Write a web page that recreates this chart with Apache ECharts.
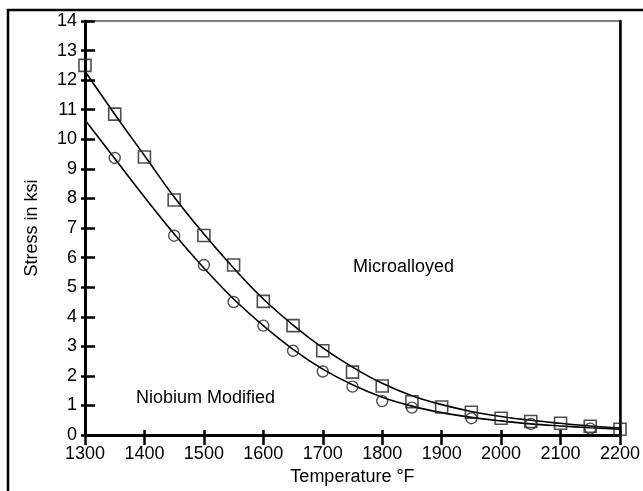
<!DOCTYPE html>
<html>
<head>
<meta charset="utf-8">
<script src="https://cdn.jsdelivr.net/npm/echarts@6/dist/echarts.min.js"></script>
<style>
html,body{margin:0;padding:0;background:#fff;}
#c{width:643px;height:491px;}
</style>
</head>
<body>
<div id="c"></div>
<script>
// Temperature ticks and data
var xTicks = [1300,1400,1500,1600,1700,1800,1900,2000,2100,2200];
var yTicks = [0,1,2,3,4,5,6,7,8,9,10,11,12,13,14];

// Microalloyed measured points (squares)
var microT = [1300,1350,1400,1450,1500,1550,1600,1650,1700,1750,1800,1850,1900,1950,2000,2050,2100,2150,2200];
var microS = [12.5,10.85,9.4,7.95,6.75,5.75,4.52,3.7,2.85,2.13,1.66,1.13,0.95,0.77,0.57,0.46,0.4,0.3,0.2];

// Niobium Modified measured points (circles)
var nbT = [1350,1450,1500,1550,1600,1650,1700,1750,1800,1850,1950,2050,2150];
var nbS = [9.37,6.74,5.75,4.5,3.7,2.85,2.15,1.64,1.15,0.93,0.57,0.38,0.22];

// Fitted curves
var curveT = [1300,1350,1400,1450,1500,1550,1600,1650,1700,1750,1800,1850,1900,1950,2000,2050,2100,2150,2200];
var microCurve = [12.3,10.85,9.45,8.05,6.8,5.65,4.6,3.72,2.95,2.3,1.75,1.33,1.03,0.8,0.63,0.5,0.4,0.31,0.24];
var nbCurve = [10.65,9.35,8.05,6.8,5.65,4.6,3.7,2.9,2.23,1.7,1.28,0.98,0.76,0.6,0.48,0.38,0.31,0.25,0.2];

function zip(a,b){ return a.map(function(v,i){return [v,b[i]];}); }

var FONT = '"Liberation Sans", Arial, Helvetica, sans-serif';
var chart = echarts.init(document.getElementById('c'), null, {renderer:'canvas'});

var xBase = {type:'value', min:xTicks[0], max:xTicks[xTicks.length-1], interval:100, gridIndex:0};
var yBase = {type:'value', min:yTicks[0], max:yTicks[yTicks.length-1], interval:1, gridIndex:0};

chart.setOption({
  animation:false,
  backgroundColor:'#fff',
  grid:{left:85, top:21, right:17, bottom:54, show:true, borderColor:'#000', borderWidth:1.2, backgroundColor:'transparent'},
  xAxis:[
    Object.assign({}, xBase, {
      position:'bottom',
      name:'Temperature \u00B0F', nameLocation:'middle', nameGap:27,
      nameTextStyle:{fontFamily:FONT, fontSize:18, color:'#000'},
      axisLine:{show:true, lineStyle:{color:'#000', width:3}},
      axisTick:{show:true, inside:false, length:10, lineStyle:{color:'#000', width:2.5}},
      axisLabel:{show:true, margin:10, fontFamily:FONT, fontSize:18, color:'#000',
                 formatter:function(v){return String(v);}},
      splitLine:{show:false}
    }),
    Object.assign({}, xBase, {
      position:'bottom',
      axisLine:{show:false},
      axisTick:{show:true, inside:true, length:5, lineStyle:{color:'#000', width:2.5}},
      axisLabel:{show:false},
      splitLine:{show:false}
    })
  ],
  yAxis:[
    Object.assign({}, yBase, {
      position:'left',
      name:'Stress in ksi', nameLocation:'middle', nameGap:44,
      nameTextStyle:{fontFamily:FONT, fontSize:18, color:'#000'},
      axisLine:{show:true, lineStyle:{color:'#000', width:3}},
      axisTick:{show:true, inside:true, length:10, lineStyle:{color:'#000', width:2.5}},
      axisLabel:{show:true, margin:8, fontFamily:FONT, fontSize:18, color:'#000'},
      splitLine:{show:false}
    }),
    Object.assign({}, yBase, {
      position:'left',
      axisLine:{show:false},
      axisTick:{show:true, inside:false, length:4, lineStyle:{color:'#000', width:2.5}},
      axisLabel:{show:false},
      splitLine:{show:false}
    }),
    Object.assign({}, yBase, {
      position:'right',
      axisLine:{show:true, lineStyle:{color:'#000', width:2.5}},
      axisTick:{show:false},
      axisLabel:{show:false},
      splitLine:{show:false}
    })
  ],
  graphic:[
    {type:'polyline', silent:true, shape:{points:[[8,491],[8,10],[643,10]]}, style:{stroke:'#000', lineWidth:2.5, fill:null}},
    {type:'text', silent:true, left:353, top:258, style:{text:'Microalloyed', fontFamily:FONT, fontSize:18, fill:'#000'}},
    {type:'text', silent:true, left:136, top:389, style:{text:'Niobium Modified', fontFamily:FONT, fontSize:18, fill:'#000'}}
  ],
  series:[
    {type:'line', name:'Microalloyed fit', data:zip(curveT, microCurve), smooth:0.4, showSymbol:false, symbol:'none',
     lineStyle:{color:'#000', width:1.6}, z:2},
    {type:'line', name:'Niobium fit', data:zip(curveT, nbCurve), smooth:0.4, showSymbol:false, symbol:'none',
     lineStyle:{color:'#000', width:1.6}, z:2},
    {type:'scatter', name:'Microalloyed', data:zip(microT, microS), symbol:'rect', symbolSize:12,
     itemStyle:{color:'rgba(255,255,255,0)', borderColor:'#222', borderWidth:1.6}, z:3},
    {type:'scatter', name:'Niobium Modified', data:zip(nbT, nbS), symbol:'circle', symbolSize:11,
     itemStyle:{color:'rgba(255,255,255,0)', borderColor:'#222', borderWidth:1.4}, z:3}
  ]
});
</script>
</body>
</html>
